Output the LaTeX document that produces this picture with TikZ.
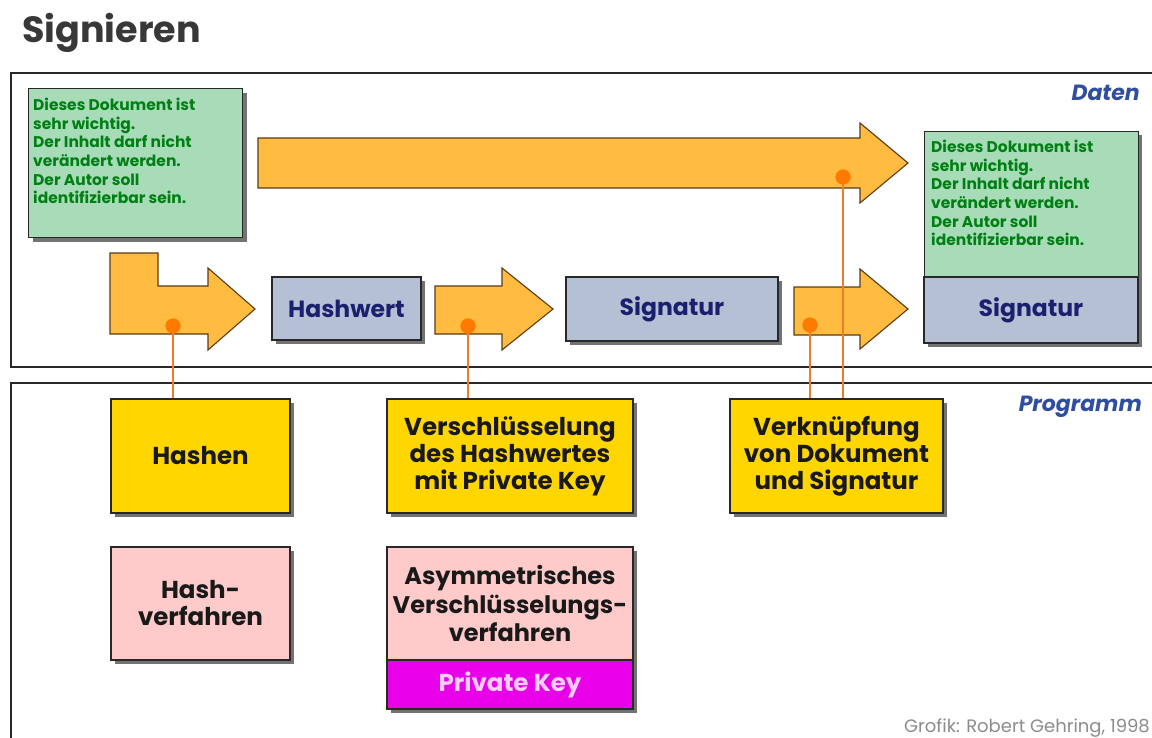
\documentclass[tikz,border=0pt]{standalone}
\usepackage{fontspec}
\setmainfont{Poppins}
\usetikzlibrary{shadows}

\definecolor{docgreen}{RGB}{168,220,184}
\definecolor{doctext}{RGB}{0,128,20}
\definecolor{flow}{RGB}{255,188,64}
\definecolor{flowline}{RGB}{90,60,20}
\definecolor{dotorange}{RGB}{255,122,0}
\definecolor{linkorange}{RGB}{240,124,40}
\definecolor{datagray}{RGB}{182,192,212}
\definecolor{datatext}{RGB}{26,32,110}
\definecolor{procyellow}{RGB}{255,214,0}
\definecolor{methpink}{RGB}{255,202,202}
\definecolor{keymag}{RGB}{232,0,232}
\definecolor{keytext}{RGB}{255,205,255}
\definecolor{labelblue}{RGB}{48,78,160}
\definecolor{edge}{RGB}{40,40,40}

\tikzset{
  panel/.style={draw=edge, line width=1.3pt},
  shade box/.style={draw=edge, line width=1.1pt,
    drop shadow={shadow xshift=4pt, shadow yshift=-4pt, fill=black!55, opacity=1}},
  plain box/.style={draw=edge, line width=1.1pt},
  docbox/.style={shade box, fill=docgreen, anchor=north west},
  boxfont/.style={font=\fontsize{24.5}{27}\selectfont\bfseries},
  datbox/.style={shade box, fill=datagray, text=datatext, font=\fontsize{23.5}{27}\selectfont\bfseries},
  procbox/.style={shade box, fill=procyellow, align=center, text=black!90, boxfont},
  methbox/.style={shade box, fill=methpink, align=center, text=black!90, boxfont},
  doctxt/.style={anchor=north west, inner sep=0pt, align=left, text=doctext, font=\fontsize{15.5}{18.6}\selectfont\bfseries},
  flowarrow/.style={fill=flow, draw=flowline, line width=1.1pt, line join=miter},
  hook/.style={circle, fill=dotorange, inner sep=0pt, minimum size=15pt},
  link/.style={draw=linkorange, line width=2.2pt},
  arealabel/.style={anchor=east, inner sep=0pt, text=labelblue, font=\fontsize{22}{24}\selectfont\bfseries\itshape},
}

\begin{document}
\begin{tikzpicture}[x=1pt, y=-1pt]
  \clip (0,0) rectangle (1152,737);
  \fill[white] (0,0) rectangle (1152,737);

  % heading
  \node (title) [anchor=base west, inner sep=0pt, text=black!78,
        font=\fontsize{36.5}{40}\selectfont\bfseries] at (22,42) {Signieren};

  % the two areas
  \draw[panel] (11,73) rectangle (1175,367);
  \draw[panel] (11,383) rectangle (1175,760);
  \node (daten) [arealabel] at (1140,93) {Daten};
  \node (programm) [arealabel] at (1142,407) {Programm};

  % source document
  \node (doc) [docbox, minimum width=214pt, minimum height=149pt] at (28,88) {};
  \node (doctext) [doctxt] at (33,98) {Dieses Dokument ist\\sehr wichtig.\\Der Inhalt darf nicht\\verändert werden.\\Der Autor soll\\identifizierbar sein.};

  % flow arrows
  \draw[flowarrow] (258,138) -- (860,138) -- (860,123) -- (908,163) -- (860,203) -- (860,188) -- (258,188) -- cycle;
  \draw[flowarrow] (110,253) -- (158,253) -- (158,286) -- (208,286) -- (208,268) -- (255,309) -- (208,350) -- (208,334) -- (110,334) -- cycle;
  \draw[flowarrow] (435,286) -- (502,286) -- (502,268) -- (553,309) -- (502,350) -- (502,334) -- (435,334) -- cycle;
  \draw[flowarrow] (794,287) -- (860,287) -- (860,269) -- (908,309) -- (860,349) -- (860,335) -- (794,335) -- cycle;

  % intermediate data
  \node (hashwert) [datbox, minimum width=149pt, minimum height=63pt] at (346.5,308.5) {Hashwert};
  \node (signatur) [datbox, minimum width=212pt, minimum height=64pt] at (672,309) {Signatur};

  % signed document
  \path[drop shadow={shadow xshift=4pt, shadow yshift=-4pt, fill=black!55, opacity=1}, fill=white] (924,131) rectangle (1138,343);
  \node (signeddoc) [plain box, fill=docgreen, anchor=north west, minimum width=214pt, minimum height=146pt] at (924,131) {};
  \node (signedtext) [doctxt] at (931,140) {Dieses Dokument ist\\sehr wichtig.\\Der Inhalt darf nicht\\verändert werden.\\Der Autor soll\\identifizierbar sein.};
  \node (signedsig) [plain box, fill=datagray, text=datatext, font=\fontsize{23.5}{27}\selectfont\bfseries,
        minimum width=214pt, minimum height=66pt] at (1031,310) {Signatur};

  % program steps
  \node (hashen) [procbox, minimum width=179pt, minimum height=114pt] at (200.5,456) {Hashen};
  \node (verschl) [procbox, minimum width=246pt, minimum height=114pt] at (510,456) {Verschlüsselung\\des Hashwertes\\mit Private Key};
  \node (verkn) [procbox, minimum width=213pt, minimum height=114pt] at (836.5,456) {Verknüpfung\\von Dokument\\und Signatur};

  % methods
  \node (hashverf) [methbox, minimum width=179pt, minimum height=113pt] at (200.5,603.5) {Hash-\\verfahren};
  \path[drop shadow={shadow xshift=4pt, shadow yshift=-4pt, fill=black!55, opacity=1}, fill=white] (387,547) rectangle (633,709);
  \node (asym) [plain box, fill=methpink, align=center, text=black!90, font=\fontsize{24}{28.5}\selectfont\bfseries,
        minimum width=246pt, minimum height=113pt] at (510,603.5) {Asymmetrisches\\Verschlüsselungs-\\verfahren};
  \node (privkey) [plain box, fill=keymag, text=keytext, font=\fontsize{24.5}{27}\selectfont\bfseries,
        minimum width=246pt, minimum height=49pt] at (510,684.5) {Private Key};

  % hooks on the flow arrows and their links to the program steps
  \node (h1) [hook] at (173,326) {};
  \node (h2) [hook] at (468,326) {};
  \node (h3) [hook] at (810,325) {};
  \node (h4) [hook] at (843,177) {};
  \draw[link] (h1.center) -- (h1.center |- hashen.north);
  \draw[link] (h2.center) -- (h2.center |- verschl.north);
  \draw[link] (h3.center) -- (h3.center |- verkn.north);
  \draw[link] (h4.center) -- (h4.center |- verkn.north);
  \node[hook] at (h1) {};
  \node[hook] at (h2) {};
  \node[hook] at (h3) {};
  \node[hook] at (h4) {};

  % credit line
  \node (credit) [anchor=east, inner sep=0pt, text=black!45, font=\fontsize{18}{20}\selectfont] at (1150,728) {Grofik: Robert Gehring, 1998};
\end{tikzpicture}
\end{document}
